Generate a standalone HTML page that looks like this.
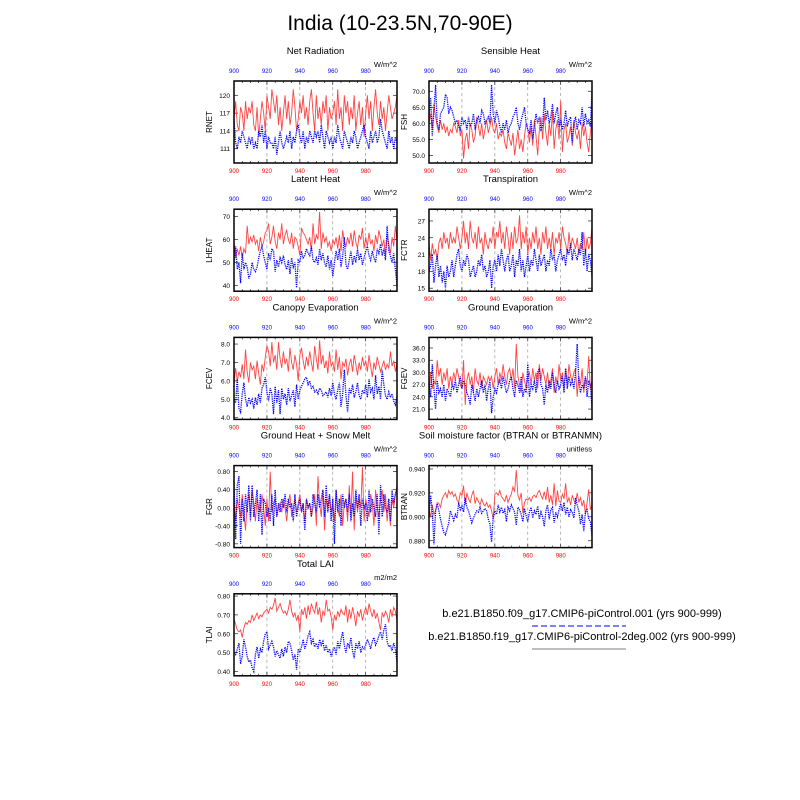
<!DOCTYPE html>
<html><head><meta charset="utf-8"><style>
body{margin:0;background:#fff}
svg{display:block;font-family:"Liberation Sans",sans-serif}
</style></head><body>
<svg id="chart" width="800" height="800" viewBox="0 0 800 800">
<text x="400" y="30" font-size="21" text-anchor="middle">India (10-23.5N,70-90E)</text>
<g id="panels"></g>
<g>
<text x="582" y="617" font-size="11" text-anchor="middle">b.e21.B1850.f09_g17.CMIP6-piControl.001 (yrs 900-999)</text>
<line x1="532" y1="626" x2="626" y2="626" stroke="#00f" stroke-width="1" stroke-dasharray="6,3"/>
<text x="582" y="640" font-size="11" text-anchor="middle">b.e21.B1850.f19_g17.CMIP6-piControl-2deg.002 (yrs 900-999)</text>
<line x1="532" y1="649" x2="626" y2="649" stroke="#000" stroke-width="0.6"/>
</g>
</svg>
<script>
const years = Array.from({length:100},(_,i)=>900+i);
const xTicks = [900,920,940,960,980];
const rnetRed=[116,119,115,114,118,117,114,119,116,118,117,119,115,114,118,113,116,119,117,114,120,118,116,121,119,117,120,115,118,114,117,120,116,119,115,117,121,118,114,116,119,117,120,116,118,115,119,121,117,114,120,116,118,115,119,117,120,114,118,116,117,119,115,121,116,118,114,120,117,119,115,118,116,120,114,117,119,115,118,113,117,120,116,119,114,118,121,117,115,119,116,118,114,117,120,118,116,117,118,120];
const rnetBlue=[116,112,111,113,112,114,113,112,111,113,112,113,111,112,111,114,113,115,112,114,111,113,112,112,111,113,110,112,114,112,111,112,113,112,114,111,113,112,114,115,113,112,114,111,113,112,114,113,112,114,113,114,112,115,113,111,114,113,112,113,111,113,112,115,113,112,111,114,113,112,111,113,112,114,113,111,112,113,114,115,113,112,111,114,112,113,114,112,113,116,114,113,112,111,114,112,113,111,113,112];
const fshRed=[60,63,58,66,62,59,57,61,58,60,57,59,56,58,57,60,59,57,61,56,58,49,55,57,52,60,58,54,56,62,59,56,60,55,58,61,57,59,62,58,57,60,55,57,56,58,54,52,57,55,53,57,50,54,58,52,55,51,56,60,58,54,59,53,61,56,50,58,62,55,63,57,53,60,56,64,52,58,61,55,67,51,58,60,54,56,59,53,61,57,55,58,52,60,56,59,54,51,57,61];
const fshBlue=[62,68,56,64,72,60,58,63,64,65,69,68,63,65,64,62,60,61,59,58,62,60,61,58,62,59,60,63,58,61,62,60,64,63,60,61,62,60,72,63,60,64,62,59,57,60,58,61,57,59,60,62,63,65,60,58,61,63,65,60,58,57,61,55,59,63,60,62,58,59,68,61,64,60,62,66,60,63,65,59,61,58,60,64,59,61,62,54,60,62,58,61,60,65,59,63,60,61,59,70];
const lheatRed=[59,52,56,53,57,52,56,54,66,58,61,59,62,58,60,55,61,57,59,63,64,67,58,61,66,59,56,63,60,67,58,62,64,60,58,63,56,61,60,57,53,65,63,62,60,58,61,55,67,58,62,60,72,56,63,59,61,57,59,55,60,58,61,56,62,55,64,59,57,61,58,63,57,64,59,56,62,60,65,56,61,57,63,58,60,55,62,58,64,61,57,60,53,62,58,54,61,57,66,59];
const lheatBlue=[49,57,47,50,41,54,47,50,48,43,45,50,47,46,48,52,55,57,53,50,47,54,51,56,55,46,51,48,52,50,53,49,47,51,45,52,48,50,39,51,50,55,52,53,56,54,53,57,51,50,52,49,56,51,54,50,48,53,47,51,44,50,55,51,56,48,53,61,49,47,51,55,49,53,50,56,51,54,49,52,55,57,53,51,55,52,50,56,54,58,53,56,51,66,55,53,50,54,47,40];
const fctrRed=[23,20,23,21,22,20,23,24,22,25,23,24,22,25,23,24,23,26,24,22,24,27,23,25,22,27,24,23,25,22,26,23,24,21,25,23,22,24,23,26,22,25,24,27,23,25,22,26,24,21,25,22,26,23,24,28,22,25,23,26,21,24,22,25,23,26,22,24,21,25,23,26,22,24,22,25,21,24,23,25,22,26,24,23,21,25,22,24,23,22,24,21,23,22,25,21,24,22,23,26];
const fctrBlue=[18,19,21,16,19,21,17,19,16,18,15,19,17,18,20,17,19,21,22,19,18,20,19,21,20,17,18,19,17,18,20,19,21,18,19,17,18,20,15,19,20,18,21,19,22,20,18,20,21,18,19,21,17,20,19,22,18,20,17,19,21,18,20,19,22,20,18,21,19,20,21,18,20,19,22,20,21,18,20,21,22,20,21,19,22,21,23,20,22,21,20,22,21,25,19,22,18,21,20,17];
const fcevRed=[5.8,6.7,6.0,6.5,6.2,6.9,6.1,7.7,6.5,5.9,7.0,6.6,6.8,6.1,7.1,6.4,5.8,6.9,6.5,7.3,7.9,7.6,6.8,8.1,7.0,7.4,6.6,8.1,7.2,6.7,7.6,6.9,7.2,6.5,7.8,7.0,6.6,7.4,6.9,6.0,7.4,7.8,7.1,6.6,7.3,6.8,7.6,7.0,6.5,7.9,7.2,6.6,8.2,6.9,7.4,6.7,7.1,6.4,7.6,6.8,7.0,6.5,7.7,6.6,7.3,6.1,7.0,6.8,7.2,6.3,6.9,7.2,6.5,7.4,6.9,6.3,7.0,6.6,7.3,6.8,7.1,6.5,7.4,6.8,6.2,7.0,6.6,7.3,6.9,6.5,6.8,7.1,6.6,6.9,6.7,7.6,6.8,7.1,6.5,7.0];
const fcevBlue=[5.0,4.8,6.1,4.5,4.3,5.3,5.9,5.0,4.6,5.1,4.8,5.0,4.5,5.1,4.7,5.3,4.8,5.6,5.8,6.2,5.4,4.9,5.6,5.3,4.2,5.7,4.8,5.5,4.2,5.6,5.0,5.3,4.7,5.6,4.9,5.2,5.5,4.6,5.8,5.0,5.5,5.7,5.9,6.1,6.2,5.8,6.0,5.6,5.7,5.4,5.5,5.3,5.6,5.5,5.2,5.3,5.4,5.1,5.6,5.2,5.9,5.3,5.0,5.5,5.9,4.6,5.3,6.6,5.2,4.3,5.6,5.3,5.8,5.1,5.4,5.9,5.2,5.0,5.5,5.3,5.8,5.1,6.1,5.4,5.6,5.0,6.3,5.3,5.7,5.0,6.6,5.8,5.2,5.0,5.4,5.1,5.3,4.9,4.7,5.2];
const fgevRed=[25,30,26,28,27,33,29,31,27,30,28,31,26,29,27,30,28,31,29,27,26,33,22,28,30,27,29,25,31,28,27,30,26,29,28,27,29,28,29,26,29,31,27,30,28,32,29,27,30,31,28,31,26,37,29,27,25,30,28,26,29,30,27,31,28,30,26,32,28,31,29,27,30,26,28,31,25,29,27,32,28,30,26,31,27,32,29,28,30,31,24,29,27,31,25,29,27,34,26,28];
const fgevBlue=[27,24,32,26,21,28,25,26,24,27,23,26,25,24,27,26,28,25,27,29,26,28,27,25,24,22,27,25,23,26,24,26,28,25,27,23,26,28,20,24,26,25,27,28,26,29,27,25,26,28,29,26,24,28,27,25,29,24,26,25,32,24,27,26,28,25,30,31,27,26,22,27,25,28,26,30,27,25,28,26,27,29,25,31,26,29,27,28,26,30,37,28,25,27,26,29,24,28,27,21];
const fgrRed=[0.1,-0.3,0.2,0.0,-0.2,0.3,-0.1,-0.5,0.1,0.3,-0.2,0.4,0.1,-0.3,0.2,0.0,-0.1,0.3,0.0,-0.4,0.2,-0.3,0.8,-0.1,0.1,0.2,-0.2,0.0,0.1,-0.1,0.2,0.0,-0.3,0.1,0.3,-0.2,0.0,0.2,-0.1,0.1,0.3,-0.1,0.1,-0.3,0.2,0.0,0.1,-0.2,0.0,0.3,-0.4,0.7,0.1,-0.2,0.4,-0.5,0.2,0.0,0.3,-0.1,0.1,-0.3,0.4,0.0,-0.2,0.3,-0.4,0.1,0.2,-0.3,0.5,-0.2,0.8,-0.5,0.3,-0.1,0.2,0.0,0.9,-0.3,0.2,0.0,-0.2,0.3,0.1,-0.4,0.4,0.0,-0.2,0.2,0.4,-0.1,0.3,-0.3,0.1,-0.4,0.2,0.0,0.3,0.5];
const fgrBlue=[0.6,-0.7,0.5,0.7,-0.8,0.2,-0.3,0.3,-0.1,0.5,-0.3,0.5,-0.2,0.1,0.4,-0.3,0.3,-0.6,0.2,0.1,-0.2,0.0,-0.3,0.3,-0.4,0.4,-0.2,0.1,-0.1,0.2,0.0,0.3,-0.1,0.2,0.0,0.1,-0.3,0.3,-0.2,0.0,0.2,-0.1,0.1,-0.5,0.2,0.0,0.1,-0.2,0.3,0.1,-0.1,0.3,0.0,0.2,0.4,-0.2,0.5,-0.1,0.3,-0.3,0.2,-0.8,0.4,-0.1,0.2,-0.4,0.3,0.0,0.2,-0.1,0.3,-0.3,0.1,-0.2,0.4,0.0,0.3,-0.4,0.2,0.0,0.1,-0.3,0.4,-0.1,0.2,0.0,-0.2,0.3,-0.6,0.5,-0.2,0.3,0.0,-0.1,0.2,-0.3,0.4,0.1,0.3,0.4];
const btranRed=[0.906,0.900,0.910,0.902,0.905,0.912,0.911,0.908,0.915,0.918,0.920,0.916,0.922,0.919,0.921,0.917,0.919,0.914,0.912,0.920,0.918,0.926,0.910,0.920,0.915,0.912,0.918,0.922,0.911,0.916,0.913,0.910,0.915,0.911,0.909,0.912,0.908,0.910,0.905,0.898,0.919,0.920,0.918,0.922,0.917,0.915,0.913,0.918,0.912,0.916,0.919,0.925,0.921,0.939,0.918,0.914,0.920,0.903,0.912,0.915,0.914,0.916,0.913,0.917,0.918,0.916,0.920,0.922,0.918,0.915,0.921,0.914,0.925,0.912,0.918,0.910,0.928,0.909,0.922,0.913,0.912,0.919,0.915,0.928,0.912,0.916,0.910,0.918,0.914,0.911,0.920,0.912,0.916,0.909,0.914,0.902,0.912,0.923,0.906,0.910];
const btranBlue=[0.900,0.918,0.905,0.877,0.905,0.911,0.905,0.898,0.892,0.887,0.885,0.890,0.895,0.905,0.901,0.897,0.902,0.899,0.912,0.906,0.909,0.904,0.916,0.908,0.905,0.900,0.895,0.899,0.902,0.905,0.904,0.908,0.903,0.905,0.907,0.905,0.898,0.894,0.879,0.900,0.905,0.902,0.910,0.904,0.908,0.903,0.906,0.896,0.908,0.905,0.910,0.907,0.904,0.893,0.908,0.906,0.902,0.896,0.907,0.901,0.896,0.904,0.908,0.899,0.905,0.902,0.909,0.898,0.904,0.900,0.892,0.905,0.910,0.898,0.906,0.908,0.895,0.904,0.900,0.906,0.911,0.905,0.912,0.902,0.908,0.900,0.906,0.904,0.899,0.916,0.910,0.905,0.894,0.902,0.888,0.904,0.906,0.898,0.896,0.884];
const tlaiRed=[0.68,0.65,0.62,0.61,0.62,0.58,0.63,0.66,0.65,0.67,0.66,0.70,0.67,0.69,0.71,0.68,0.70,0.69,0.71,0.72,0.73,0.71,0.74,0.73,0.75,0.79,0.72,0.74,0.76,0.73,0.71,0.72,0.70,0.73,0.78,0.72,0.69,0.71,0.67,0.70,0.61,0.73,0.70,0.74,0.68,0.75,0.70,0.76,0.73,0.71,0.77,0.70,0.74,0.66,0.72,0.70,0.78,0.72,0.73,0.69,0.62,0.70,0.67,0.72,0.69,0.73,0.71,0.70,0.75,0.66,0.73,0.68,0.74,0.70,0.64,0.72,0.69,0.73,0.67,0.71,0.74,0.70,0.76,0.72,0.69,0.73,0.68,0.71,0.66,0.62,0.71,0.69,0.72,0.70,0.66,0.73,0.69,0.74,0.72,0.67];
const tlaiBlue=[0.50,0.49,0.52,0.55,0.44,0.48,0.57,0.53,0.48,0.45,0.46,0.42,0.40,0.49,0.53,0.47,0.52,0.50,0.56,0.60,0.61,0.52,0.54,0.56,0.53,0.48,0.51,0.49,0.47,0.52,0.48,0.53,0.50,0.56,0.55,0.51,0.46,0.49,0.41,0.52,0.50,0.53,0.57,0.52,0.55,0.59,0.61,0.55,0.57,0.53,0.55,0.52,0.57,0.54,0.56,0.51,0.54,0.50,0.52,0.48,0.51,0.53,0.49,0.56,0.52,0.57,0.61,0.54,0.50,0.55,0.53,0.58,0.51,0.47,0.55,0.52,0.56,0.50,0.53,0.52,0.54,0.57,0.55,0.52,0.56,0.58,0.54,0.56,0.59,0.61,0.57,0.62,0.65,0.56,0.53,0.54,0.51,0.55,0.52,0.45];
const titles=["Net Radiation","Sensible Heat","Latent Heat","Transpiration","Canopy Evaporation","Ground Evaporation","Ground Heat + Snow Melt","Soil moisture factor (BTRAN or BTRANMN)","Total LAI"];
const yLabels=["RNET","FSH","LHEAT","FCTR","FCEV","FGEV","FGR","BTRAN","TLAI"];
const units=["W/m^2","W/m^2","W/m^2","W/m^2","W/m^2","W/m^2","W/m^2","unitless","m2/m2"];
const yRanges=[[108.6,122.4],[47.6,73.2],[37.5,73.2],[14.46,29.1],[3.91,8.36],[18.46,38.6],[-0.883,0.935],[0.8743,0.9428],[0.377,0.812]];
const yTickVals=[[111,114,117,120],[50,55,60,65,70],[40,50,60,70],[15,18,21,24,27],[4,5,6,7,8],[21,24,27,30,33,36],[-0.8,-0.4,0,0.4,0.8],[0.88,0.90,0.92,0.94],[0.4,0.5,0.6,0.7,0.8]];
const yTickDec=[0,1,0,0,1,1,2,3,2];
const redSeries=[rnetRed,fshRed,lheatRed,fctrRed,fcevRed,fgevRed,fgrRed,btranRed,tlaiRed];
const blueSeries=[rnetBlue,fshBlue,lheatBlue,fctrBlue,fcevBlue,fgevBlue,fgrBlue,btranBlue,tlaiBlue];

const NS="http://www.w3.org/2000/svg";
const root=document.getElementById('panels');
function mk(tag,attrs,parent){const e=document.createElementNS(NS,tag);for(const k in attrs)e.setAttribute(k,attrs[k]);parent.appendChild(e);return e;}
const lefts=[234,429], W=163, H=82;
for(let p=0;p<9;p++){
  const L=lefts[p%2], T=81+Math.floor(p/2)*128.2, R=L+W, B=T+H;
  const g=mk('g',{},root);
  
  
  const [y0,y1]=yRanges[p];
  const xs=v=>L+(v-900)/99*W;
  const ys=v=>B-(v-y0)/(y1-y0)*H;
  const t=mk('text',{x:L+W/2,y:T-27,'font-size':9.5,'text-anchor':'middle'},g);t.textContent=titles[p];
  
  
  const u=mk('text',{x:R,y:T-14,'font-size':7.5,'text-anchor':'end'},g);u.textContent=units[p];
  
  
  const yl=mk('text',{x:0,y:0,'font-size':8,'text-anchor':'middle',transform:`translate(${L-22},${T+H/2}) rotate(-90)`},g);yl.textContent=yLabels[p];
  
  
  xTicks.forEach(v=>{
    if(v>900){const gl=mk('line',{x1:xs(v),x2:xs(v),y1:T,y2:B,stroke:'#888','stroke-width':0.6,'stroke-dasharray':'3,3'},g);
    
    }
    const tt=mk('text',{x:xs(v),y:T-8,'font-size':6,fill:'#00f','text-anchor':'middle'},g);tt.textContent=v;
    
    
    const bt=mk('text',{x:xs(v),y:B+10,'font-size':6,fill:'#f00','text-anchor':'middle'},g);bt.textContent=v;
    
    
  });
  for(let v=900;v<1000;v+=5){const mj=(v%20==0);
    mk('line',{x1:xs(v),x2:xs(v),y1:B,y2:B-(mj?4:2),stroke:'#000','stroke-width':0.6},g);
    mk('line',{x1:xs(v),x2:xs(v),y1:T,y2:T+(mj?4:2),stroke:'#000','stroke-width':0.6},g);}
  yTickVals[p].forEach(v=>{
    mk('line',{x1:L,x2:L+4,y1:ys(v),y2:ys(v),stroke:'#000','stroke-width':0.6},g);
    mk('line',{x1:R,x2:R-4,y1:ys(v),y2:ys(v),stroke:'#000','stroke-width':0.6},g);
    const yt=mk('text',{x:L-4,y:ys(v)+2.5,'font-size':6.5,'text-anchor':'end'},g);yt.textContent=v.toFixed(yTickDec[p]);
    
    
  });
  const red=mk('polyline',{points:redSeries[p].map((v,i)=>xs(years[i])+','+ys(v)).join(' '),fill:'none',stroke:'#f44','stroke-width':0.9},g);
  
  
  const blue=mk('polyline',{points:blueSeries[p].map((v,i)=>xs(years[i])+','+ys(v)).join(' '),fill:'none',stroke:'#00f','stroke-width':1.3,'stroke-dasharray':'1.2,1'},g);
  
  
  const box=mk('rect',{x:L,y:T,width:W,height:H,fill:'none',stroke:'#000','stroke-width':1.5},g);
  
  
}
</script>
</body></html>
